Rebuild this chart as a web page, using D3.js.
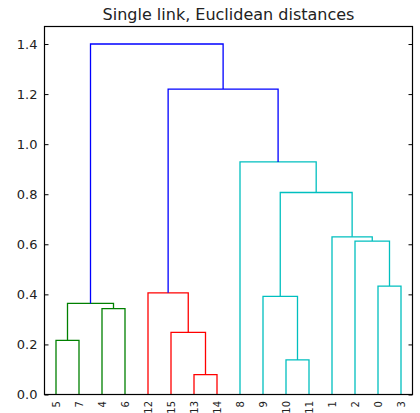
<!DOCTYPE html>
<html>
<head>
<meta charset="utf-8">
<script src="https://cdn.jsdelivr.net/npm/d3@7"></script>
<style>
  html, body { margin: 0; padding: 0; background: #fff; }
  svg { display: block; }
  text { font-family: "DejaVu Sans", sans-serif; }
</style>
</head>
<body>
<svg id="chart" width="420" height="413"></svg>
<script>
// ---- data ----
const title = "Single link, Euclidean distances";
const leafLabels = ["5","7","4","6","12","15","13","14","8","9","10","11","1","2","0","3"];
const mergeIds    = ["A","B","C","D","E","F","G","H","I","J","K","L","M","N","O"];
const mergeLeft   = ["13","10","5","15","4","C","9","12","0","2","1","G","8","H","F"];
const mergeRight  = ["14","11","7","A","6","E","B","D","3","I","J","K","L","M","N"];
const mergeHeight = [0.079,0.138,0.216,0.248,0.343,0.364,0.392,0.406,0.433,0.613,0.630,0.807,0.929,1.220,1.400];
const mergeColor  = ["r","c","g","r","g","g","c","r","c","c","c","c","c","b","b"];
const yTicks = [0.0,0.2,0.4,0.6,0.8,1.0,1.2,1.4];

const colorMap = { g: "#008000", r: "#ff0000", c: "#00bfbf", b: "#0000ff" };

// ---- layout ----
const svg = d3.select("#chart");
const mLeft = 44.5, mRight = 412.5, mTop = 26.5, mBottom = 394.5;
const yMax = 1.4 * 1.05;

const x = d3.scaleLinear().domain([0, leafLabels.length * 10]).range([mLeft, mRight]);
const y = d3.scaleLinear().domain([0, yMax]).range([mBottom, mTop]);

// node positions
const pos = {};
leafLabels.forEach((l, i) => { pos[l] = { u: 5 + 10 * i, h: 0 }; });
const links = mergeIds.map((id, i) => {
  const a = pos[mergeLeft[i]], b = pos[mergeRight[i]];
  const h = mergeHeight[i];
  pos[id] = { u: (a.u + b.u) / 2, h: h };
  return { a, b, h, color: colorMap[mergeColor[i]] };
});

const g = svg.append("g");
g.selectAll("path.link")
  .data(links)
  .enter().append("path")
  .attr("class", "link")
  .attr("fill", "none")
  .attr("stroke", d => d.color)
  .attr("stroke-width", 1.3)
  .attr("d", d => {
    const p = d3.path();
    p.moveTo(x(d.a.u), y(d.a.h));
    p.lineTo(x(d.a.u), y(d.h));
    p.lineTo(x(d.b.u), y(d.h));
    p.lineTo(x(d.b.u), y(d.b.h));
    return p.toString();
  });

// y axis left
const yAxisL = d3.axisLeft(y).tickValues(yTicks).tickFormat(d3.format(".1f"))
  .tickSizeInner(-4).tickSizeOuter(0).tickPadding(7);
const ga = svg.append("g").attr("transform", `translate(${mLeft},0)`).call(yAxisL);
ga.select(".domain").remove();
ga.selectAll(".tick line").attr("stroke", "#000");
ga.selectAll(".tick text").attr("font-size", 13).attr("fill", "#222")
  .attr("font-family", "DejaVu Sans, sans-serif");

// y axis right (ticks only)
const yAxisR = d3.axisRight(y).tickValues(yTicks).tickFormat("")
  .tickSizeInner(-4).tickSizeOuter(0);
const gr = svg.append("g").attr("transform", `translate(${mRight},0)`).call(yAxisR);
gr.select(".domain").remove();
gr.selectAll(".tick line").attr("stroke", "#000");

// x labels
const xAxis = d3.axisBottom(x)
  .tickValues(leafLabels.map((l, i) => 5 + 10 * i))
  .tickFormat((d, i) => leafLabels[i])
  .tickSize(0).tickSizeOuter(0);
const gx = svg.append("g").attr("transform", `translate(0,${mBottom})`).call(xAxis);
gx.select(".domain").remove();
gx.selectAll(".tick text")
  .attr("font-size", 10).attr("fill", "#222")
  .attr("font-family", "DejaVu Sans, sans-serif")
  .attr("text-anchor", "end")
  .attr("dy", "0.35em")
  .attr("y", 0)
  .attr("transform", "translate(0,6.5) rotate(-90)");

// frame
svg.append("rect")
  .attr("x", mLeft).attr("y", mTop)
  .attr("width", mRight - mLeft).attr("height", mBottom - mTop)
  .attr("fill", "none").attr("stroke", "#000").attr("stroke-width", 1.2);

// title
svg.append("text")
  .attr("x", (mLeft + mRight) / 2).attr("y", 20)
  .attr("text-anchor", "middle")
  .attr("font-size", 16).attr("fill", "#222")
  .text(title);
</script>
</body>
</html>
